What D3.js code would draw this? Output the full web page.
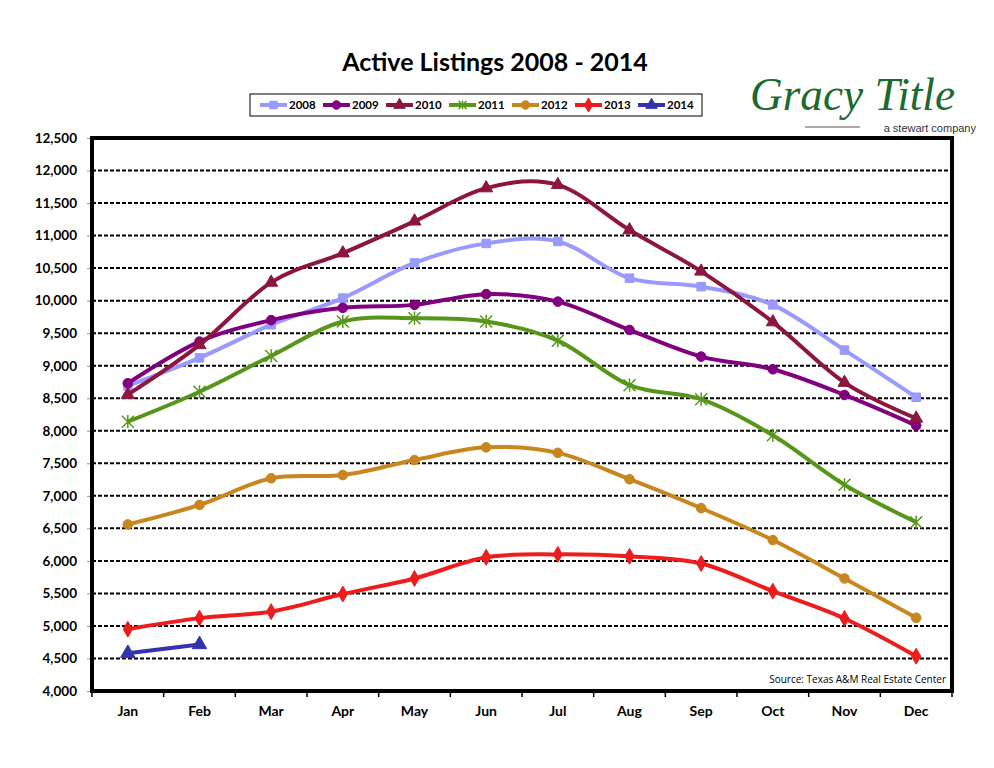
<!DOCTYPE html>
<html>
<head>
<meta charset="utf-8">
<script src="https://cdn.jsdelivr.net/npm/d3@7"></script>
<style>
  body { margin: 0; background: white; }
</style>
</head>
<body>
<div id="output"></div>
<script>
const width = 994;
const height = 768;

const months = ['Jan', 'Feb', 'Mar', 'Apr', 'May', 'Jun', 'Jul', 'Aug', 'Sep', 'Oct', 'Nov', 'Dec'];
const years = ['2008', '2009', '2010', '2011', '2012', '2013', '2014'];
const yTicks = [4000, 4500, 5000, 5500, 6000, 6500, 7000, 7500, 8000, 8500, 9000, 9500, 10000, 10500, 11000, 11500, 12000, 12500];

const s2008 = [8690, 9120, 9630, 10040, 10580, 10880, 10910, 10345, 10215, 9935, 9240, 8515];
const s2009 = [8730, 9370, 9700, 9890, 9935, 10100, 9985, 9550, 9140, 8945, 8550, 8080];
const s2010 = [8555, 9320, 10280, 10730, 11220, 11730, 11780, 11085, 10450, 9670, 8740, 8190];
const s2011 = [8140, 8600, 9150, 9680, 9730, 9680, 9385, 8700, 8485, 7930, 7170, 6595];
const s2012 = [6560, 6860, 7270, 7320, 7550, 7745, 7660, 7255, 6810, 6320, 5730, 5125];
const s2013 = [4950, 5120, 5220, 5490, 5730, 6055, 6100, 6070, 5960, 5535, 5115, 4535];
const s2014 = [4580, 4715];

const seriesValues = [s2008, s2009, s2010, s2011, s2012, s2013, s2014];
const colors = ['#9999ff', '#800080', '#8c1640', '#56961a', '#c8861e', '#ee1c1c', '#3333b0'];
const markers = ['square', 'circle', 'triangle', 'star', 'circle', 'diamond', 'triangle'];

const plot = {left: 92, right: 952, top: 138, bottom: 691};

let svg = d3.select('#output').append('svg')
    .attr('width', width)
    .attr('height', height)
    .style('font-family', 'Lato, "Open Sans", sans-serif');

svg.append('rect')
    .attr('width', width)
    .attr('height', height)
    .attr('fill', 'white');

const x = d3.scaleBand().domain(months).range([plot.left, plot.right]);
const y = d3.scaleLinear().domain([4000, 12500]).range([plot.bottom, plot.top]);

// title
svg.append('text')
    .attr('x', 495)
    .attr('y', 71)
    .attr('text-anchor', 'middle')
    .attr('font-size', 25)
    .attr('font-weight', 'bold')
    .text('Active Listings 2008 - 2014');

// logo
let logo = svg.append('g').attr('id', 'logo');
logo.append('text')
    .attr('x', 750)
    .attr('y', 110)
    .attr('font-family', '"Liberation Serif", "DejaVu Serif", serif')
    .attr('font-style', 'italic')
    .attr('font-size', 46)
    .attr('fill', '#1c6a2e')
    .attr('textLength', 205)
    .attr('lengthAdjust', 'spacingAndGlyphs')
    .text('Gracy Title');
logo.append('line')
    .attr('x1', 805).attr('x2', 860)
    .attr('y1', 127).attr('y2', 127)
    .attr('stroke', '#555')
    .attr('stroke-width', 1);
logo.append('text')
    .attr('x', 976)
    .attr('y', 132)
    .attr('text-anchor', 'end')
    .attr('font-family', '"Liberation Sans", Arial, sans-serif')
    .attr('font-size', 11)
    .attr('fill', '#333')
    .text('a stewart company');

// gridlines
svg.append('g').attr('id', 'grid')
    .selectAll('line')
    .data(yTicks.filter(d => d > 4000 && d < 12500))
    .enter().append('line')
    .attr('x1', plot.left).attr('x2', plot.right)
    .attr('y1', d => y(d)).attr('y2', d => y(d))
    .attr('stroke', 'black')
    .attr('stroke-width', 2)
    .attr('stroke-dasharray', '4,2');

// y axis labels and ticks
let yAxis = svg.append('g')
    .attr('transform', 'translate(' + plot.left + ',0)')
    .call(d3.axisLeft(y).tickValues(yTicks).tickSize(5).tickFormat(d3.format(',')));
yAxis.select('.domain').remove();
yAxis.selectAll('.tick line').attr('stroke', '#999');
yAxis.selectAll('.tick text')
    .attr('x', -15)
    .attr('font-size', 13.5)
    .attr('font-weight', 'bold')
    .attr('font-family', 'Lato, sans-serif')
    .attr('fill', 'black');

// x axis: ticks between categories
let xAxis = svg.append('g')
    .attr('transform', 'translate(0,' + plot.bottom + ')');
xAxis.selectAll('line')
    .data(d3.range(months.length + 1))
    .enter().append('line')
    .attr('x1', i => plot.left + i * x.step())
    .attr('x2', i => plot.left + i * x.step())
    .attr('y1', 0).attr('y2', 6)
    .attr('stroke', 'black')
    .attr('stroke-width', 1.5);
xAxis.selectAll('text')
    .data(months)
    .enter().append('text')
    .attr('x', d => x(d) + x.bandwidth() / 2)
    .attr('y', 25)
    .attr('text-anchor', 'middle')
    .attr('font-size', 14)
    .attr('font-weight', 'bold')
    .text(d => d);

// plot frame
svg.append('rect')
    .attr('x', plot.left)
    .attr('y', plot.top)
    .attr('width', plot.right - plot.left)
    .attr('height', plot.bottom - plot.top)
    .attr('fill', 'none')
    .attr('stroke', 'black')
    .attr('stroke-width', 4);

function markerPath(kind, size) {
    if (kind === 'star') {
        let r = size / 2;
        return 'M' + (-r) + ',' + (-r) + 'L' + r + ',' + r +
            'M' + (-r) + ',' + r + 'L' + r + ',' + (-r) +
            'M0,' + (-r * 1.1) + 'L0,' + (r * 1.1);
    }
    let type = {square: d3.symbolSquare, circle: d3.symbolCircle,
        triangle: d3.symbolTriangle, diamond: d3.symbolDiamond}[kind];
    return d3.symbol().type(type).size(size * size * 0.9)();
}

function drawMarker(g, kind, color, cx, cy, size) {
    let m = g.append('path')
        .attr('d', markerPath(kind, size))
        .attr('transform', 'translate(' + cx + ',' + cy + ')');
    if (kind === 'star') {
        m.attr('fill', 'none').attr('stroke', color).attr('stroke-width', 1.5);
    } else {
        m.attr('fill', color).attr('stroke', color).attr('stroke-width', 1);
    }
}

const markerSize = [9, 9, 9, 12, 9, 9, 10];

// series
const line = d3.line()
    .x((d, i) => x(months[i]) + x.bandwidth() / 2)
    .y(d => y(d))
    .curve(d3.curveCatmullRom.alpha(0));

let lines = svg.append('g').attr('id', 'lines');
seriesValues.forEach((vals, k) => {
    let g = lines.append('g');
    g.append('path')
        .attr('d', line(vals))
        .attr('fill', 'none')
        .attr('stroke', colors[k])
        .attr('stroke-width', 4)
        .attr('stroke-linejoin', 'round');
    vals.forEach((v, i) => {
        drawMarker(g, markers[k], colors[k], x(months[i]) + x.bandwidth() / 2, y(v), markerSize[k]);
    });
});

// source note
svg.append('text')
    .attr('x', 946)
    .attr('y', 683)
    .attr('text-anchor', 'end')
    .attr('font-size', 10)
    .attr('font-family', '"Open Sans", sans-serif')
    .text('Source: Texas A&M Real Estate Center');

// legend
let legend = svg.append('g').attr('id', 'legend');
legend.append('rect')
    .attr('x', 250).attr('y', 94)
    .attr('width', 452).attr('height', 22)
    .attr('fill', 'white')
    .attr('stroke', 'black')
    .attr('stroke-width', 1);
years.forEach((yr, k) => {
    let lx = 260 + k * 63;
    let g = legend.append('g');
    g.append('line')
        .attr('x1', lx).attr('x2', lx + 27)
        .attr('y1', 105).attr('y2', 105)
        .attr('stroke', colors[k])
        .attr('stroke-width', 4);
    drawMarker(g, markers[k], colors[k], lx + 13.5, 105, 8);
    g.append('text')
        .attr('x', lx + 29)
        .attr('y', 109)
        .attr('font-size', 11.5)
        .attr('font-weight', 'bold')
        .text(yr);
});
</script>
</body>
</html>
